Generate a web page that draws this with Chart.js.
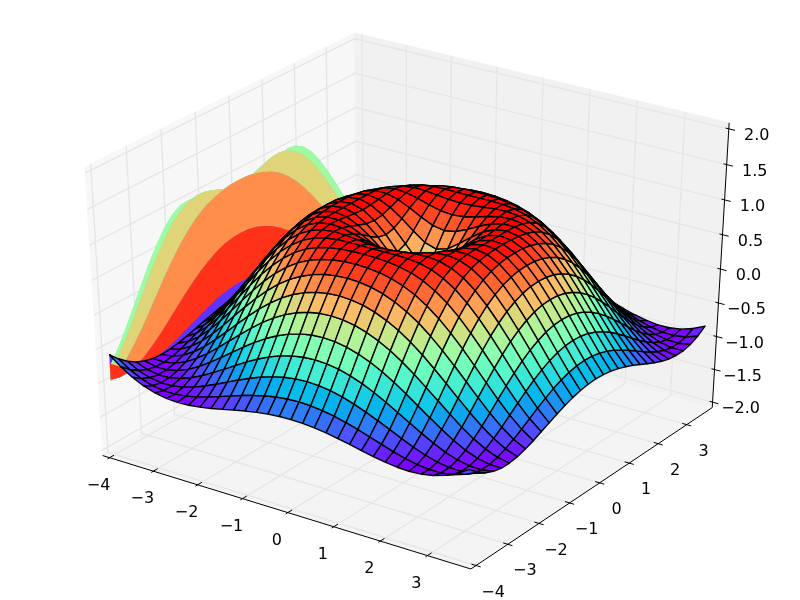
<!DOCTYPE html>
<html>
<head>
<meta charset="utf-8">
<style>
  html, body { margin: 0; padding: 0; background: #fff; }
  canvas { display: block; }
</style>
</head>
<body>
<canvas id="chart" width="800" height="600"></canvas>
<script src="https://cdn.jsdelivr.net/npm/chart.js@4/dist/chart.umd.min.js"></script>
<script>
// grid positions of the surface (same for both horizontal axes)
const gridXY = [-4, -3.75, -3.5, -3.25, -3, -2.75, -2.5, -2.25, -2, -1.75, -1.5, -1.25, -1, -0.75, -0.5, -0.25,
  0, 0.25, 0.5, 0.75, 1, 1.25, 1.5, 1.75, 2, 2.25, 2.5, 2.75, 3, 3.25, 3.5, 3.75];

// surface height for one quadrant, rows and columns are |x| and |y| in quarter steps
const zQuadrant = [
  [0, .247, .479, .682, .841, .949, .997, .984, .909, .778, .598, .382, .141, -.108, -.351, -.572, -.757],
  [.247, .346, .530, .711, .858, .957, .999, .981, .903, .769, .588, .372, .131, -.118, -.359, -.579, -.762],
  [.479, .530, .650, .784, .899, .975, 1, .969, .882, .742, .558, .340, .100, -.146, -.384, -.599, -.777],
  [.682, .711, .784, .873, .949, .994, .994, .945, .844, .696, .507, .287, .049, -.193, -.424, -.631, -.800],
  [.841, .858, .899, .949, .988, 1, .973, .903, .787, .628, .434, .214, -.021, -.256, -.478, -.674, -.831],
  [.949, .957, .975, .994, 1, .981, .928, .837, .706, .538, .340, .121, -.108, -.334, -.544, -.725, -.867],
  [.997, .999, 1, .994, .973, .928, .852, .742, .598, .424, .224, .009, -.211, -.424, -.618, -.782, -.905],
  [.984, .981, .969, .945, .903, .837, .742, .618, .465, .287, .090, -.118, -.325, -.522, -.697, -.839, -.941],
  [.909, .903, .882, .844, .787, .706, .598, .465, .308, .131, -.060, -.256, -.448, -.625, -.777, -.895, -.971],
  [.778, .769, .742, .696, .628, .538, .424, .287, .131, -.040, -.220, -.400, -.572, -.725, -.852, -.943, -.993],
  [.598, .588, .558, .507, .434, .340, .224, .090, -.060, -.220, -.384, -.544, -.691, -.818, -.917, -.979, -1],
  [.382, .372, .340, .287, .214, .121, .009, -.118, -.256, -.400, -.544, -.680, -.800, -.898, -.966, -.998, -.990],
  [.141, .131, .100, .049, -.021, -.108, -.211, -.325, -.448, -.572, -.691, -.800, -.892, -.958, -.995, -.996, -.959],
  [-.108, -.118, -.146, -.193, -.256, -.334, -.424, -.522, -.625, -.725, -.818, -.898, -.958, -.993, -.998, -.969, -.904],
  [-.351, -.359, -.384, -.424, -.478, -.544, -.618, -.697, -.777, -.852, -.917, -.966, -.995, -.998, -.972, -.914, -.824],
  [-.572, -.579, -.599, -.631, -.674, -.725, -.782, -.839, -.895, -.943, -.979, -.998, -.996, -.969, -.914, -.830, -.718],
  [-.757, -.762, -.777, -.800, -.831, -.867, -.905, -.941, -.971, -.993, -1, -.990, -.959, -.904, -.824, -.718, -.586]
];

// contour bands on the x wall: level values and the grid row each level sits on
const bandLevels = [-4, -3, -2, -1, 0, 1, 2, 3, 4];
const bandRows = [0, 4, 8, 12, 16, 20, 24, 28, 31];

const xTicks = [-4, -3, -2, -1, 0, 1, 2, 3];
const yTicks = [-4, -3, -2, -1, 0, 1, 2, 3];
const zTicks = [-2, -1.5, -1, -0.5, 0, 0.5, 1, 1.5, 2];
const xTickLabels = ["\u22124", "\u22123", "\u22122", "\u22121", "0", "1", "2", "3"];
const yTickLabels = ["\u22124", "\u22123", "\u22122", "\u22121", "0", "1", "2", "3"];
const zTickLabels = ["\u22122.0", "\u22121.5", "\u22121.0", "\u22120.5", "0.0", "0.5", "1.0", "1.5", "2.0"];

const limX = [-4, 3.75], limY = [-4, 3.75], limZ = [-2, 2];

// camera
const elev = 32 * Math.PI / 180, azim = -55.5 * Math.PI / 180, dist = 10;
const n = [Math.cos(elev) * Math.cos(azim), Math.cos(elev) * Math.sin(azim), Math.sin(elev)];
const u = [-Math.sin(azim), Math.cos(azim), 0];
const v = [-Math.sin(elev) * Math.cos(azim), -Math.sin(elev) * Math.sin(azim), Math.cos(elev)];

function project(x, y, z) {
  const p = [
    (x - limX[0]) / (limX[1] - limX[0]) - 0.5,
    (y - limY[0]) / (limY[1] - limY[0]) - 0.5,
    (z - limZ[0]) / (limZ[1] - limZ[0]) - 0.5
  ];
  const dot = (a, b) => a[0] * b[0] + a[1] * b[1] + a[2] * b[2];
  const depth = dist - dot(n, p);
  return { x: dot(u, p) / depth, y: dot(v, p) / depth, depth: depth };
}

function rainbow(t) {
  const c = (val) => Math.round(255 * Math.min(1, Math.max(0, val)));
  return "rgb(" + c(Math.abs(2 * t - 0.5)) + "," + c(Math.sin(Math.PI * t)) + "," + c(Math.cos(Math.PI * t / 2)) + ")";
}

function zAt(i, j) {
  return zQuadrant[Math.abs(i - 16)][Math.abs(j - 16)];
}

// pane edges sit a bit outside the data limits
const padX = (limX[1] - limX[0]) / 48, padY = (limY[1] - limY[0]) / 48, padZ = (limZ[1] - limZ[0]) / 48;
const x0 = limX[0] - padX, x1 = limX[1] + padX;
const y0 = limY[0] - padY, y1 = limY[1] + padY;
const z0 = limZ[0] - padZ, z1 = limZ[1] + padZ;
const tickStep = (limX[1] - limX[0]) / 12;

const paintOrder = [];

function addShape(points, fillColor, strokeColor, width) {
  paintOrder.push({
    data: points.map((p) => project(p[0], p[1], p[2])),
    showLine: true,
    fill: fillColor ? "shape" : false,
    backgroundColor: fillColor || "transparent",
    borderColor: strokeColor || "transparent",
    borderWidth: width || 0,
    borderJoinStyle: "round",
    borderDash: [5000, 0],
    pointRadius: 0,
    pointHoverRadius: 0
  });
}

// panes
addShape([[x0, y0, z0], [x0, y1, z0], [x0, y1, z1], [x0, y0, z1], [x0, y0, z0]], "#f7f7f7", "#f7f7f7", 1);
addShape([[x0, y1, z0], [x1, y1, z0], [x1, y1, z1], [x0, y1, z1], [x0, y1, z0]], "#f1f1f1", "#f1f1f1", 1);
addShape([[x0, y0, z0], [x1, y0, z0], [x1, y1, z0], [x0, y1, z0], [x0, y0, z0]], "#f4f4f4", "#f4f4f4", 1);

// grid
const gridColor = "#e6e6e6", gridWidth = 1.39;
xTicks.forEach((t) => {
  addShape([[t, y0, z0], [t, y1, z0], [t, y1, z1]], null, gridColor, gridWidth);
});
yTicks.forEach((t) => {
  addShape([[x1, t, z0], [x0, t, z0], [x0, t, z1]], null, gridColor, gridWidth);
});
zTicks.forEach((t) => {
  addShape([[x0, y0, t], [x0, y1, t], [x1, y1, t]], null, gridColor, gridWidth);
});

// axis lines and ticks
addShape([[x0, y0, z0], [x1, y0, z0]], null, "#000", 1);
addShape([[x1, y0, z0], [x1, y1, z0]], null, "#000", 1);
addShape([[x1, y1, z0], [x1, y1, z1]], null, "#000", 1);
xTicks.forEach((t) => {
  addShape([[t, y0 - 0.1 * tickStep, z0], [t, y0 + 0.2 * tickStep, z0]], null, "#000", 1);
});
yTicks.forEach((t) => {
  addShape([[x1 - 0.15 * tickStep, t, z0], [x1 + 0.15 * tickStep, t, z0]], null, "#000", 1);
});
zTicks.forEach((t) => {
  addShape([[x1 - 0.1 * tickStep, y1, t], [x1 + 0.2 * tickStep, y1, t]], null, "#000", 1);
});

// contour bands on the wall, lowest level first
bandRows.slice(0, -1).forEach((row, k) => {
  const nextRow = bandRows[k + 1];
  const pts = [];
  gridXY.forEach((y, j) => pts.push([limX[0], y, zAt(row, j)]));
  gridXY.slice().reverse().forEach((y, j) => pts.push([limX[0], y, zAt(nextRow, gridXY.length - 1 - j)]));
  const mid = (bandLevels[k] + bandLevels[k + 1]) / 2;
  addShape(pts, rainbow((mid - bandLevels[0]) / (bandLevels[bandLevels.length - 1] - bandLevels[0])));
});

// surface quads, far ones first
const quads = [];
for (let i = 0; i < gridXY.length - 1; i++) {
  for (let j = 0; j < gridXY.length - 1; j++) {
    const pts = [
      [gridXY[i], gridXY[j], zAt(i, j)],
      [gridXY[i + 1], gridXY[j], zAt(i + 1, j)],
      [gridXY[i + 1], gridXY[j + 1], zAt(i + 1, j + 1)],
      [gridXY[i], gridXY[j + 1], zAt(i, j + 1)]
    ];
    const avgZ = (pts[0][2] + pts[1][2] + pts[2][2] + pts[3][2]) / 4;
    const depth = pts.reduce((s, p) => s + project(p[0], p[1], p[2]).depth, 0) / 4;
    quads.push({ pts: pts, avgZ: avgZ, depth: depth });
  }
}
const minAvg = Math.min(...quads.map((q) => q.avgZ));
const maxAvg = Math.max(...quads.map((q) => q.avgZ));
quads.sort((a, b) => b.depth - a.depth);
quads.forEach((q) => {
  addShape(q.pts.concat([q.pts[0]]), rainbow((q.avgZ - minAvg) / (maxAvg - minAvg)), "#000", 1.39);
});

// tick labels as text, placed from the projected tick position
const tickLabelPlugin = {
  id: "tickLabels",
  afterDatasetsDraw(chart) {
    const ctx = chart.ctx;
    const sx = chart.scales.x, sy = chart.scales.y;
    ctx.save();
    ctx.fillStyle = "#000";
    ctx.font = "16px 'DejaVu Sans'";
    ctx.textAlign = "center";
    ctx.textBaseline = "middle";
    const put = (label, p, dx, dy) => {
      ctx.fillText(label, sx.getPixelForValue(p.x) + dx, sy.getPixelForValue(p.y) + dy);
    };
    xTicks.forEach((t, i) => put(xTickLabels[i], project(t, y0, z0), -11, 28));
    yTicks.forEach((t, i) => put(yTickLabels[i], project(x1, t, z0), 17, 27));
    zTicks.forEach((t, i) => put(zTickLabels[i], project(x1, y1, t), 28, 7));
    ctx.restore();
  }
};

new Chart(document.getElementById("chart"), {
  type: "scatter",
  data: { datasets: paintOrder.slice().reverse() }, // first dataset is drawn on top
  plugins: [tickLabelPlugin],
  options: {
    responsive: false,
    animation: false,
    events: [],
    layout: { padding: 0 },
    plugins: {
      legend: { display: false },
      tooltip: { enabled: false },
      colors: { enabled: false }
    },
    scales: {
      x: { type: "linear", min: -0.095, max: 0.09, display: false },
      y: { type: "linear", min: -0.095, max: 0.09, display: false }
    }
  }
});
</script>
</body>
</html>
